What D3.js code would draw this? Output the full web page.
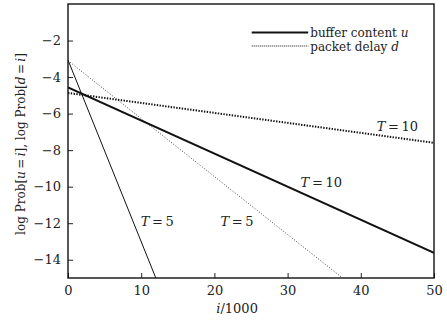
<!DOCTYPE html>
<html>
<head>
<meta charset="utf-8">
<script src="https://cdn.jsdelivr.net/npm/d3@7"></script>
<style>
  body { margin: 0; background: #fff; }
  svg text { font-family: "DejaVu Serif", serif; fill: #222; }
</style>
</head>
<body>
<script>

// data (straight lines, two end points each)
var bufferT10 = [[0, -4.56], [50, -13.62]];
var bufferT5  = [[0, -3.07], [12.0, -15]];
var delayT10  = [[0, -4.87], [50, -7.6]];
var delayT5   = [[0, -3.1], [37.5, -15]];

var xTicks = [0, 10, 20, 30, 40, 50];
var yTicks = [-14, -12, -10, -8, -6, -4, -2];

// curve labels: [x, y] in data units
var labels = [
  {text: "10", at: [34.6, -10.02]},
  {text: "10", at: [45.0, -6.93]},
  {text: "5",  at: [12.2, -12.15]},
  {text: "5",  at: [23.1, -12.16]}
];

var FONT = "'DejaVu Serif', serif";

// set the dimensions and margins of the graph
var margin = {top: 4, right: 13, bottom: 43, left: 68},
    width = 447 - margin.left - margin.right,
    height = 321 - margin.top - margin.bottom;

var svg = d3.select("body")
  .append("svg")
    .attr("width", 447)
    .attr("height", 321)
  .append("g")
    .attr("transform", "translate(" + margin.left + "," + margin.top + ")");

var x = d3.scaleLinear().domain([0, 50]).range([0, width]);
var y = d3.scaleLinear().domain([-15, 0]).range([height, 0]);

svg.append("clipPath").attr("id", "clip")
  .append("rect").attr("width", width).attr("height", height);

// X axis (ticks pointing inward)
var xAxis = svg.append("g")
  .attr("transform", "translate(0," + height + ")")
  .call(d3.axisBottom(x).tickValues(xTicks).tickSize(-5).tickPadding(8).tickFormat(d3.format("d")));

// Y axis
var yAxis = svg.append("g")
  .call(d3.axisLeft(y).tickValues(yTicks).tickSize(-5).tickPadding(7)
    .tickFormat(function(d) { return "\u2212" + Math.abs(d); }));

[xAxis, yAxis].forEach(function(a) {
  a.attr("font-family", FONT).attr("font-size", 13);
  a.select(".domain").remove();
  a.selectAll("line").attr("stroke", "#222").attr("stroke-width", 1);
  a.selectAll("text").attr("fill", "#222");
});

// frame
svg.append("rect")
  .attr("width", width).attr("height", height)
  .attr("fill", "none").attr("stroke", "#111").attr("stroke-width", 1.4);

var line = d3.line()
  .x(function(d) { return x(d[0]); })
  .y(function(d) { return y(d[1]); });

var series = [
  {data: bufferT10, w: 2, dash: null},
  {data: bufferT5,  w: 1, dash: null},
  {data: delayT10,  w: 2, dash: "1.4,1.4"},
  {data: delayT5,   w: 0.8, dash: "1,1.8"}
];

svg.append("g").attr("clip-path", "url(#clip)")
  .selectAll("path")
  .data(series)
  .enter()
  .append("path")
    .attr("d", function(d) { return line(d.data); })
    .attr("fill", "none")
    .attr("stroke", "#111")
    .attr("stroke-width", function(d) { return d.w; })
    .attr("stroke-dasharray", function(d) { return d.dash; });

// T = .. labels
var lab = svg.selectAll("text.curvelab")
  .data(labels)
  .enter()
  .append("text")
    .attr("class", "curvelab")
    .attr("x", function(d) { return x(d.at[0]); })
    .attr("y", function(d) { return y(d.at[1]); })
    .attr("text-anchor", "middle")
    .style("font-size", "13px");
lab.append("tspan").style("font-style", "italic").text("T");
lab.append("tspan").text("\u2009=\u2009");
lab.append("tspan").text(function(d) { return d.text; });

// legend
var legend = [
  {name: "buffer content ", v: "u", w: 2, dash: null},
  {name: "packet delay ", v: "d", w: 1.2, dash: "1,1"}
];
var lg = svg.selectAll("g.leg")
  .data(legend)
  .enter()
  .append("g")
    .attr("class", "leg")
    .attr("transform", function(d, i) { return "translate(" + (251.7 - margin.left) + "," + (28.5 + i * 13.5) + ")"; });
lg.append("line")
  .attr("x1", 0).attr("x2", 56.5)
  .attr("stroke", "#111")
  .attr("stroke-width", function(d) { return d.w; })
  .attr("stroke-dasharray", function(d) { return d.dash; });
var lt = lg.append("text")
  .attr("x", 58.5).attr("y", 4.5)
  .style("font-size", "12px");
lt.append("tspan").text(function(d) { return d.name; });
lt.append("tspan").style("font-style", "italic").text(function(d) { return d.v; });

// axis titles
var xt = svg.append("text")
  .attr("x", x(23.1)).attr("y", height + 35)
  .attr("text-anchor", "middle")
  .style("font-size", "13px");
xt.append("tspan").style("font-style", "italic").text("i");
xt.append("tspan").text("/1000");

var yt = svg.append("text")
  .attr("transform", "translate(" + (25 - margin.left) + "," + (144 - margin.top) + ") rotate(-90)")
  .attr("text-anchor", "middle")
  .style("font-size", "12px");
yt.append("tspan").text("log Prob[");
yt.append("tspan").style("font-style", "italic").text("u");
yt.append("tspan").text("\u2009=\u2009");
yt.append("tspan").style("font-style", "italic").text("i");
yt.append("tspan").text("], log Prob[");
yt.append("tspan").style("font-style", "italic").text("d");
yt.append("tspan").text("\u2009=\u2009");
yt.append("tspan").style("font-style", "italic").text("i");
yt.append("tspan").text("]");

</script>
</body>
</html>
